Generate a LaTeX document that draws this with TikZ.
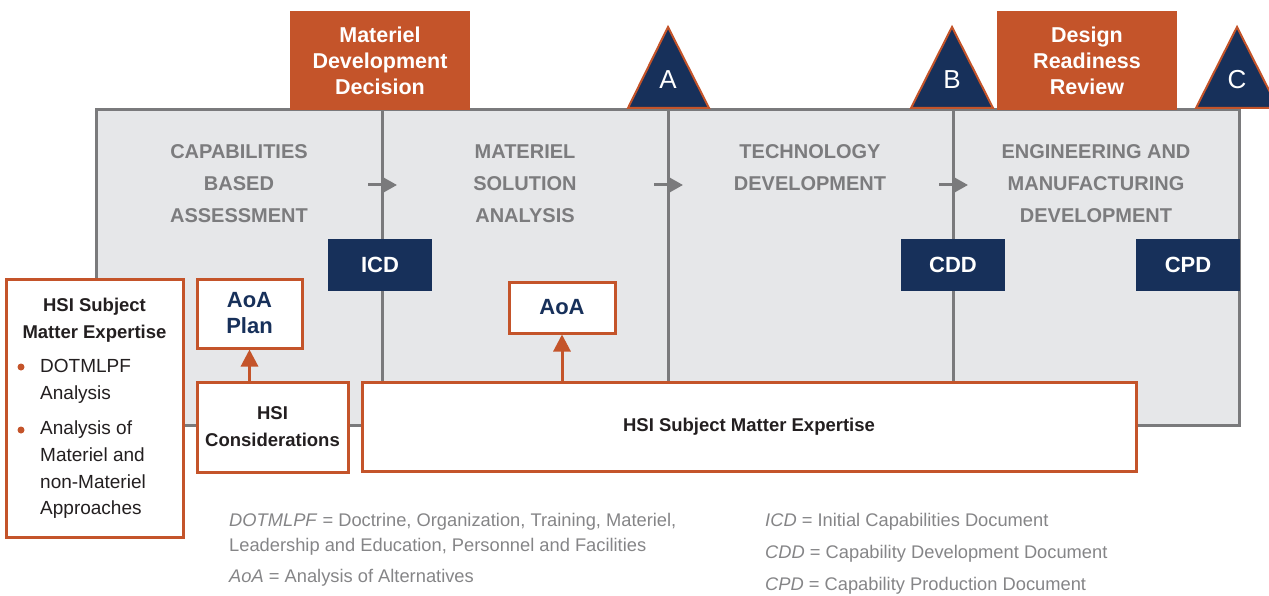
\documentclass[tikz,border=0pt]{standalone}
\usepackage{fontspec}
\setmainfont{Liberation Sans}
\usetikzlibrary{arrows.meta}
\definecolor{orng}{HTML}{C4542A}
\definecolor{navy}{HTML}{17305A}
\definecolor{panel}{HTML}{E6E7E9}
\definecolor{edge}{HTML}{7A7A7C}
\definecolor{tgray}{HTML}{7C7C7E}
\definecolor{fgray}{HTML}{858587}
\definecolor{ink}{HTML}{231F20}
\begin{document}
\begin{tikzpicture}[x=1pt,y=-1pt,
  orbox/.style={draw=orng, line width=3pt, fill=white, inner sep=0pt, align=center, text=ink},
  navybox/.style={fill=navy, text=white, inner sep=0pt, minimum width=104pt, minimum height=52pt,
     font=\fontsize{22}{24}\selectfont\bfseries},
  hdr/.style={fill=orng, text=white, inner sep=0pt, align=center, minimum width=180pt, minimum height=99pt,
     font=\fontsize{21.5}{26}\selectfont\bfseries},
  phase/.style={text=tgray, align=center, inner sep=0pt, font=\fontsize{20}{32}\selectfont\bfseries},
  tri/.style={fill=navy, draw=orng, line width=2pt, line join=miter},
  trilbl/.style={text=white, inner sep=0pt, font=\fontsize{26}{28}\selectfont},
  divider/.style={draw=edge, line width=3pt},
  garrow/.style={draw=edge, line width=3pt, -{Triangle[length=15pt,width=16pt]}},
  oarrow/.style={draw=orng, line width=3pt, -{Triangle[length=17pt,width=17pt]}},
  navytext/.style={text=navy, font=\fontsize{22}{26}\selectfont\bfseries},
  foot/.style={text=fgray, anchor=west, inner sep=0pt, font=\fontsize{18.3}{20}\selectfont},
  sidetext/.style={text=ink, inner sep=0pt, font=\fontsize{19}{27}\selectfont},
  bulletdot/.style={circle, fill=orng, inner sep=0pt, minimum size=7pt}
]
\useasboundingbox (0,0) rectangle (1269,596);
\clip (0,0) rectangle (1269,596);

% main panel
\draw[fill=panel, draw=edge, line width=3pt] (96,110) rectangle (1239,425);
\draw[divider] (382,110) -- (382,425);
\draw[divider] (668,110) -- (668,425);
\draw[divider] (953,110) -- (953,425);

% phase arrows
\coordinate (a1s) at (368,185); \coordinate (a1e) at (397,185);
\coordinate (a2s) at (654,185); \coordinate (a2e) at (683,185);
\coordinate (a3s) at (939,185); \coordinate (a3e) at (968,185);
\draw[garrow] (a1s) -- (a1e);
\draw[garrow] (a2s) -- (a2e);
\draw[garrow] (a3s) -- (a3e);

% phase titles
\node[phase] (cba) at (239,184) {CAPABILITIES\\BASED\\ASSESSMENT};
\node[phase] (msa) at (525,184) {MATERIEL\\SOLUTION\\ANALYSIS};
\node[phase] (td) at (810,168) {TECHNOLOGY\\DEVELOPMENT};
\node[phase] (emd) at (1096,184) {ENGINEERING AND\\MANUFACTURING\\DEVELOPMENT};

% headers
\node[hdr] (mdd) at (380,60.5) {Materiel\\Development\\Decision};
\node[hdr] (drr) at (1087,60.5) {Design\\Readiness\\Review};

% milestone triangles
\draw[tri] (628,108) -- (668,27) -- (709,108) -- cycle;
\node[trilbl] (ma) at (668,80) {A};
\draw[tri] (911,108) -- (952,27) -- (993,108) -- cycle;
\node[trilbl] (mb) at (952,80) {B};
\draw[tri] (1196,108) -- (1237,27) -- (1278,108) -- cycle;
\node[trilbl] (mc) at (1237,80) {C};

% documents
\node[navybox] (icd) at (380,265) {ICD};
\node[navybox] (cdd) at (953,265) {CDD};
\node[navybox] (cpd) at (1188,265) {CPD};

% boxes
\node[orbox, minimum width=106pt, minimum height=51pt, navytext] (aoa) at (562,307.5) {AoA};
\node[orbox, minimum width=105pt, minimum height=69pt, navytext] (aoaplan) at (249.5,313.5) {AoA\\Plan};
\node[orbox, minimum width=151pt, minimum height=90pt, font=\fontsize{18.5}{27}\selectfont\bfseries] (hsic) at (272.5,427) {HSI\\Considerations};
\node[orbox, minimum width=774pt, minimum height=89pt, font=\fontsize{18.5}{22}\selectfont\bfseries] (sme) at (749,426.5) {HSI Subject Matter Expertise};

\draw[oarrow] (aoaplan.south |- hsic.north) -- (aoaplan.south);
\draw[oarrow] (aoa.south |- sme.north) -- (aoa.south);

% left box
\node[orbox, minimum width=177pt, minimum height=258pt] (lbox) at (94.5,408) {};
\node[sidetext, align=center, font=\fontsize{18.5}{27}\selectfont\bfseries] (ltitle) at (94.5,320) {HSI Subject\\Matter Expertise};
\node[bulletdot] (b1) at (21,367) {};
\node[sidetext, anchor=west, align=left] (l1) at (40,381) {DOTMLPF\\Analysis};
\node[bulletdot] (b2) at (21,430) {};
\node[sidetext, anchor=west, align=left, font=\fontsize{19}{26.7}\selectfont] (l2) at (40,470) {Analysis of\\Materiel and\\non-Materiel\\Approaches};

% footnotes
\node[foot] (f1) at (229,522) {\textit{DOTMLPF} = Doctrine, Organization, Training, Materiel,};
\node[foot] (f2) at (229,547) {Leadership and Education, Personnel and Facilities};
\node[foot] (f3) at (229,578) {\textit{AoA} = Analysis of Alternatives};
\node[foot] (f4) at (765,522) {\textit{ICD} = Initial Capabilities Document};
\node[foot] (f5) at (765,554) {\textit{CDD} = Capability Development Document};
\node[foot] (f6) at (765,586) {\textit{CPD} = Capability Production Document};
\end{tikzpicture}
\end{document}
